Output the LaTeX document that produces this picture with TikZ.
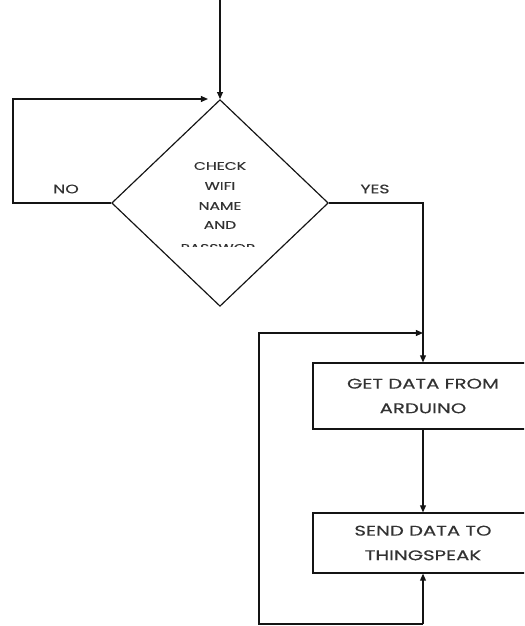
\documentclass[tikz,border=0pt]{standalone}
\usepackage{fontspec}
\setmainfont{Poppins}[FakeStretch=1.4,FakeBold=0.3]
\usetikzlibrary{shapes.geometric,arrows.meta,positioning,calc}
\definecolor{lineBlack}{RGB}{20,20,20}
\definecolor{textGray}{RGB}{50,50,50}
\tikzset{
  decision/.style={diamond, draw=lineBlack, line width=1pt, inner sep=0pt,
    minimum width=6.5cm, minimum height=6.2cm},
  procbox/.style={rectangle, draw=lineBlack, line width=1pt, align=center,
    minimum width=6.6cm, font=\fontsize{12}{21}\selectfont, text=textGray},
  dtext/.style={font=\fontsize{9.5}{11}\selectfont, text=textGray, inner sep=1pt},
  lbl/.style={font=\fontsize{10.5}{12}\selectfont, text=textGray, inner sep=1pt},
  arr/.style={-{Triangle[length=6pt,width=5pt]}, line width=1pt, color=lineBlack},
}

\begin{document}
\begin{tikzpicture}[x=0.03cm, y=-0.03cm]
\clip (0,0) rectangle (524,626);

%% DECISION
\node[decision] (chk) at (220,203) {};
\node[dtext] (chkA) at (220,166) {CHECK};
\node[dtext] (chkB) at (220,186) {WIFI};
\node[dtext] (chkC) at (220,206) {NAME};
\node[dtext] (chkD) at (220,225) {AND};
\begin{scope}
  \clip (170,236) rectangle (270,246);
  \node[dtext] (chkE) at (218,248) {PASSWOR};
\end{scope}
\node[lbl] (no) at (66,189) {NO};
\node[lbl] (yes) at (375,189) {YES};

%% PROCESS BOXES
\node[procbox, minimum height=1.98cm] (get) at (423,396)
  {GET DATA FROM\\ARDUINO};
\node[procbox, minimum height=1.8cm] (send) at (423,543)
  {SEND DATA TO\\THINGSPEAK};

%% HELPER POINTS
\coordinate (start) at (220,0);
\coordinate (noL) at (13,99);
\coordinate (noEnd) at (208,99);
\coordinate (loopS) at (423,624);
\coordinate (loopL) at (259,333);
\coordinate (loopJ) at (423,333);

%% ARROWS
\draw[arr] (start) -- (chk.north);
\draw[arr] (chk.west) -| (noL) -- (noEnd);
\draw[arr] (chk.east) -| (get.north);
\draw[arr] (get.south) -- (send.north);
\draw[arr] (loopS) -- (send.south);
\draw[arr] (loopS) -| (loopL) -- (loopJ);

\end{tikzpicture}
\end{document}
